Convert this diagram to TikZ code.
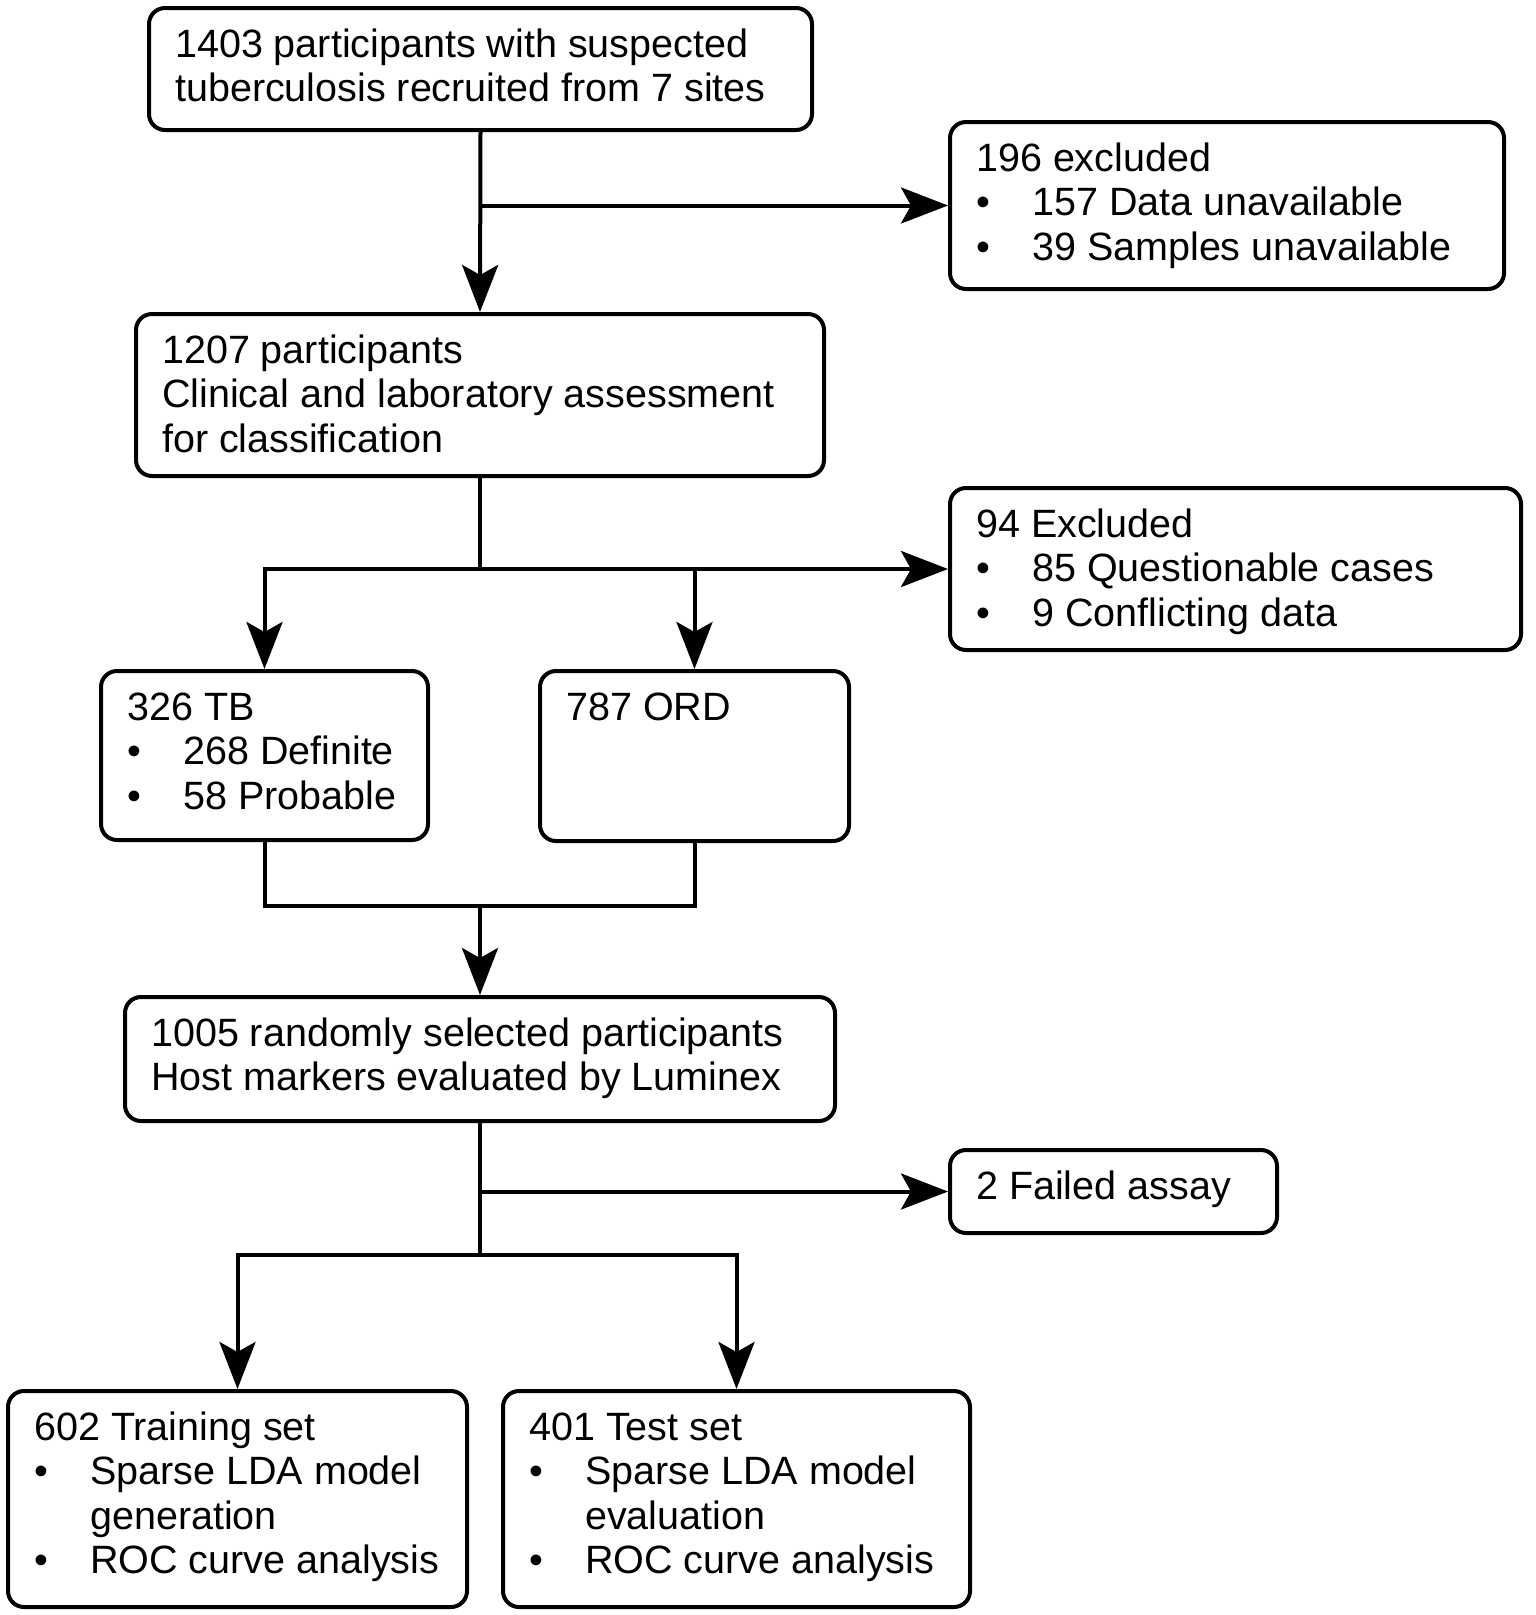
\documentclass[tikz,border=0pt]{standalone}
\usepackage{fontspec}
\setmainfont{Liberation Sans}
\usetikzlibrary{arrows.meta}
\newcommand{\bullitem}[1]{\makebox[56pt][l]{\textbullet}#1}
\newcommand{\bullcont}[1]{\hspace*{56pt}#1}
\begin{document}
\begin{tikzpicture}[x=1pt,y=-1pt,
  box/.style={draw=black, line width=4pt, rounded corners=16pt, fill=none, inner sep=0pt},
  txt/.style={anchor=base west, inner sep=0pt, font=\fontsize{39.5}{44.5}\selectfont},
  conn/.style={draw=black, line width=4pt},
  arr/.style={conn, -{Stealth[length=47pt, width=36pt, inset=10pt]}}
]
\useasboundingbox (0,0) rectangle (1535,1615);
% boxes
\node[box, minimum width=663pt, minimum height=122pt] (A) at (480.5,69) {};
\node[box, minimum width=554pt, minimum height=167pt] (B) at (1227,205.5) {};
\node[box, minimum width=688pt, minimum height=162pt] (C) at (480,395) {};
\node[box, minimum width=571pt, minimum height=162pt] (D) at (1235.5,569) {};
\node[box, minimum width=327pt, minimum height=169pt] (E) at (264.5,755.5) {};
\node[box, minimum width=309pt, minimum height=170pt] (F) at (694.5,756) {};
\node[box, minimum width=710pt, minimum height=124pt] (G) at (480,1059) {};
\node[box, minimum width=327pt, minimum height=83pt] (H) at (1113.5,1191.5) {};
\node[box, minimum width=459pt, minimum height=216pt] (I) at (237.5,1499) {};
\node[box, minimum width=467pt, minimum height=216pt] (J) at (736.5,1499) {};
% texts
\node[txt] (tA) at (175,57) {\begin{tabular}[t]{@{}l@{}}1403 participants with suspected\\tuberculosis recruited from 7 sites\end{tabular}};
\node[txt] (tB) at (976,171) {\begin{tabular}[t]{@{}l@{}}196 excluded\\\bullitem{157 Data unavailable}\\\bullitem{39 Samples unavailable}\end{tabular}};
\node[txt] (tC) at (162,363) {\begin{tabular}[t]{@{}l@{}}1207 participants\\Clinical and laboratory assessment\\for classification\end{tabular}};
\node[txt] (tD) at (976,537) {\begin{tabular}[t]{@{}l@{}}94 Excluded\\\bullitem{85 Questionable cases}\\\bullitem{9 Conflicting data}\end{tabular}};
\node[txt] (tE) at (127,720) {\begin{tabular}[t]{@{}l@{}}326 TB\\\bullitem{268 Definite}\\\bullitem{58 Probable}\end{tabular}};
\node[txt] (tF) at (566,720) {787 ORD};
\node[txt] (tG) at (151,1046) {\begin{tabular}[t]{@{}l@{}}1005 randomly selected participants\\Host markers evaluated by Luminex\end{tabular}};
\node[txt] (tH) at (976,1199) {2 Failed assay};
\node[txt] (tI) at (34,1440) {\begin{tabular}[t]{@{}l@{}}602 Training set\\\bullitem{Sparse LDA model}\\\bullcont{generation}\\\bullitem{ROC curve analysis}\end{tabular}};
\node[txt] (tJ) at (529,1440) {\begin{tabular}[t]{@{}l@{}}401 Test set\\\bullitem{Sparse LDA model}\\\bullcont{evaluation}\\\bullitem{ROC curve analysis}\end{tabular}};
% junctions
\coordinate (j1) at (A.south |- B.west);
\coordinate (j2) at (C.south |- D.west);
\coordinate (j3) at (G.north |- 0,906);
\coordinate (j4) at (G.south |- H.west);
\coordinate (j5) at (G.south |- 0,1255);
% connectors
\draw[arr] (A.south) -- (C.north);
\draw[arr] (j1) -- (B.west);
\draw[conn] (C.south) -- (j2);
\draw[arr] (j2) -- (D.west);
\draw[arr] (j2) -| (E.north);
\draw[arr] (j2) -| (F.north);
\draw[conn] (E.south) |- (j3) -| (F.south);
\draw[arr] (j3) -- (G.north);
\draw[conn] (G.south) -- (j5);
\draw[arr] (j4) -- (H.west);
\draw[arr] (j5) -| (I.north);
\draw[arr] (j5) -| (J.north);
\end{tikzpicture}
\end{document}
